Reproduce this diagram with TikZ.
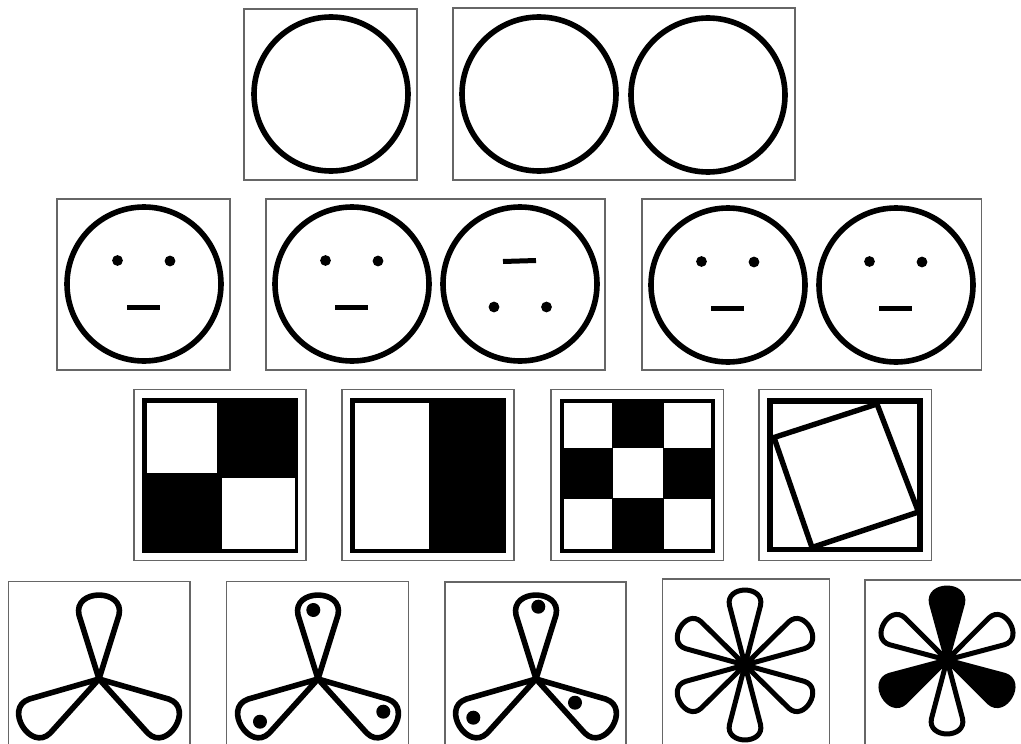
\documentclass[tikz,border=0pt]{standalone}
\tikzset{
  frame/.style={draw=black!60, line width=1.3pt},
  ring/.style={draw=black, line width=5.6pt},
  featline/.style={draw=black, line width=5pt},
  lobe/.style={draw=black, line width=5.6pt, line join=round},
  petalo/.style={draw=black, line width=5pt, line join=round},
  petalf/.style={draw=black, fill=black, line width=5pt, line join=round},
  thickbox/.style={draw=black, line width=5.4pt, line join=miter},
}
\newcommand{\leaf}[6]{%
  \begin{scope}[shift={(#1,#2)}, rotate=#3]
    \pgfmathsetmacro{\leafa}{#4-1.0*#5}
    \pgfmathsetmacro{\leafc}{#4+0.33*#5}
    \draw[#6] (0,0) -- (\leafa,#5) .. controls (\leafc,{1.3*#5}) and (\leafc,{-1.3*#5}) .. (\leafa,-#5) -- cycle;
  \end{scope}}
\newcommand{\facen}[2]{%
  \draw[ring] (#1,#2) circle[radius=77];
  \fill (#1-26.5,#2-23.5) circle[radius=5.4];
  \fill (#1+26,#2-23) circle[radius=5.4];
  \draw[featline] (#1-17,#2+23) -- (#1+16,#2+23);}
\newcommand{\facei}[2]{%
  \draw[ring] (#1,#2) circle[radius=77];
  \fill (#1-26,#2+23) circle[radius=5.4];
  \fill (#1+26.5,#2+23) circle[radius=5.4];
  \draw[featline] (#1-17,#2-22.5) -- (#1+16,#2-23.5);}
\begin{document}
\begin{tikzpicture}[x=1pt,y=-1pt]
\useasboundingbox (0,0) rectangle (1021,744);
\clip (0,0) rectangle (1021,744);
% Row 1
\draw[frame] (244,9) rectangle (417,180);
\draw[ring] (331,94) circle[radius=77];
\draw[frame] (453,8) rectangle (795,180);
\draw[ring] (539,94) circle[radius=77];
\draw[ring] (708,95) circle[radius=77];
% Row 2
\draw[frame] (57,199) rectangle (230,370);
\facen{144}{284}
\draw[frame] (266,199) rectangle (605,370);
\facen{352}{284}
\facei{520}{284}
\draw[frame] (642,199) rectangle (981.5,370);
\facen{728}{285}
\facen{896}{285}
% Row 3
\draw[frame] (134,389.5) rectangle (306,560.5);
\fill[black] (142,398) rectangle (298,553);
\fill[white] (146.5,402.5) rectangle (217,473);
\fill[white] (222,478) rectangle (294.5,548.5);
\draw[frame] (342,389.5) rectangle (514,560.5);
\fill[black] (350,398) rectangle (506,552.5);
\fill[white] (354.5,402.5) rectangle (429,548.5);
\draw[frame] (551,389.5) rectangle (723.3,560.5);
\fill[black] (559.5,398.5) rectangle (714.5,552.5);
\fill[white] (564,402.5) rectangle (612,447.5);
\fill[white] (663.5,402.5) rectangle (711,447.5);
\fill[white] (612.5,447.5) rectangle (663,498);
\fill[white] (564,498.5) rectangle (612,548.5);
\fill[white] (663.5,498.5) rectangle (711,548.5);
\draw[frame] (759,389.5) rectangle (931.7,560.5);
\draw[thickbox] (769.8,400.8) rectangle (919.8,549.6);
\draw[thickbox] (774,437.5) -- (877,404) -- (918.5,512) -- (812,547.5) -- cycle;
% Row 4
\draw[frame] (8.5,581.5) rectangle (190,770);
\leaf{99}{679}{90}{84}{20}{lobe}
\leaf{99}{679}{212}{90}{20}{lobe}
\leaf{99}{679}{328}{90}{20}{lobe}
\draw[frame] (226.7,581.5) rectangle (408.3,770);
\leaf{318}{679}{90}{84}{20}{lobe}
\leaf{318}{679}{212}{90}{20}{lobe}
\leaf{318}{679}{328}{90}{20}{lobe}
\fill (313.3,610) circle[radius=7];
\fill (260,721.7) circle[radius=7];
\fill (383.3,711.7) circle[radius=7];
\draw[frame] (445,582) rectangle (626,770);
\leaf{536}{679}{90}{84}{20}{lobe}
\leaf{536}{679}{212}{90}{20}{lobe}
\leaf{536}{679}{328}{90}{20}{lobe}
\fill (538.3,606.7) circle[radius=7];
\fill (473.3,717.7) circle[radius=7];
\fill (575,702.7) circle[radius=7];
\draw[frame] (662.7,579) rectangle (829.3,770);
\foreach \a in {30,90,150,210,270,330}{\leaf{745}{665}{\a}{75}{15.5}{petalo}}
\draw[frame] (865,580) rectangle (1040,770);
\leaf{947}{660}{30}{73}{15.5}{petalo}
\leaf{947}{660}{150}{73}{15.5}{petalo}
\leaf{947}{660}{270}{74}{15.5}{petalo}
\leaf{947}{660}{90}{72}{15.5}{petalf}
\leaf{947}{660}{210}{73}{15.5}{petalf}
\leaf{947}{660}{330}{73}{15.5}{petalf}
\end{tikzpicture}
\end{document}
